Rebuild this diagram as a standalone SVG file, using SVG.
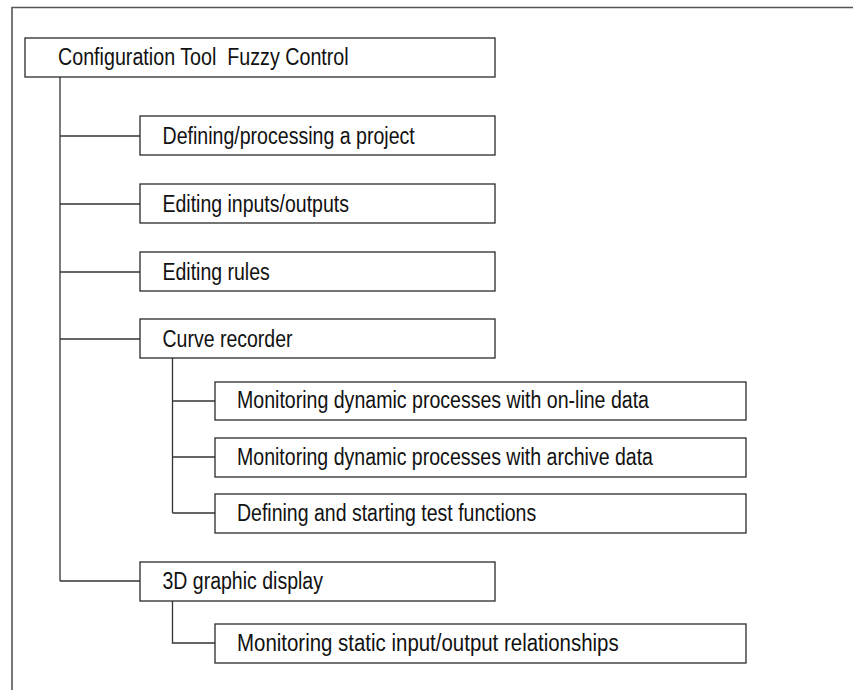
<svg xmlns="http://www.w3.org/2000/svg" width="853" height="690" viewBox="0 0 853 690">
<style>
.frame{fill:none;stroke:#555;stroke-width:1.6}
.box{fill:#fff;stroke:#2a2a2a;stroke-width:1.3}
.lbl{font-family:"Liberation Sans",Arial,sans-serif;font-size:23px;fill:#111;white-space:pre}
.con{fill:none;stroke:#333;stroke-width:1.3}
</style>
<rect width="853" height="690" fill="#fff"/>
<path class="frame" d="M12,690 V7.5 H853"/>
<g id="connectors">
<path class="con" d="M60,77 V581"/>
<path class="con" d="M60,136 H140 M60,204 H140 M60,272 H140 M60,339 H140 M60,581 H140"/>
<path class="con" d="M172.5,358 V513 M172.5,401 H215 M172.5,457 H215 M172.5,513 H215"/>
<path class="con" d="M172.5,601 V643 H215"/>
</g>
<g id="n-root"><rect class="box" x="25" y="38" width="470" height="39"/><text class="lbl" x="58" y="64.5" textLength="290.7" lengthAdjust="spacingAndGlyphs" xml:space="preserve">Configuration Tool  Fuzzy Control</text></g>
<g id="n-project"><rect class="box" x="140" y="116" width="355" height="39"/><text class="lbl" x="162.5" y="143.5" textLength="252.3" lengthAdjust="spacingAndGlyphs">Defining/processing a project</text></g>
<g id="n-io"><rect class="box" x="140" y="184" width="355" height="39"/><text class="lbl" x="162.5" y="211.5" textLength="186.4" lengthAdjust="spacingAndGlyphs">Editing inputs/outputs</text></g>
<g id="n-rules"><rect class="box" x="140" y="252" width="355" height="39"/><text class="lbl" x="162.5" y="279.5" textLength="107.3" lengthAdjust="spacingAndGlyphs">Editing rules</text></g>
<g id="n-curve"><rect class="box" x="140" y="319" width="355" height="39"/><text class="lbl" x="162.5" y="346.5" textLength="130" lengthAdjust="spacingAndGlyphs">Curve recorder</text></g>
<g id="n-online"><rect class="box" x="215" y="382" width="531" height="38"/><text class="lbl" x="237" y="408" textLength="412" lengthAdjust="spacingAndGlyphs">Monitoring dynamic processes with on-line data</text></g>
<g id="n-archive"><rect class="box" x="215" y="438" width="531" height="39"/><text class="lbl" x="237" y="464.5" textLength="416" lengthAdjust="spacingAndGlyphs">Monitoring dynamic processes with archive data</text></g>
<g id="n-test"><rect class="box" x="215" y="494" width="531" height="39"/><text class="lbl" x="237" y="520.5" textLength="299.2" lengthAdjust="spacingAndGlyphs">Defining and starting test functions</text></g>
<g id="n-3d"><rect class="box" x="140" y="562" width="355" height="39"/><text class="lbl" x="162.5" y="588.5" textLength="160.4" lengthAdjust="spacingAndGlyphs">3D graphic display</text></g>
<g id="n-static"><rect class="box" x="215" y="624" width="531" height="39"/><text class="lbl" x="237" y="650.5" textLength="381.7" lengthAdjust="spacingAndGlyphs">Monitoring static input/output relationships</text></g>
</svg>
